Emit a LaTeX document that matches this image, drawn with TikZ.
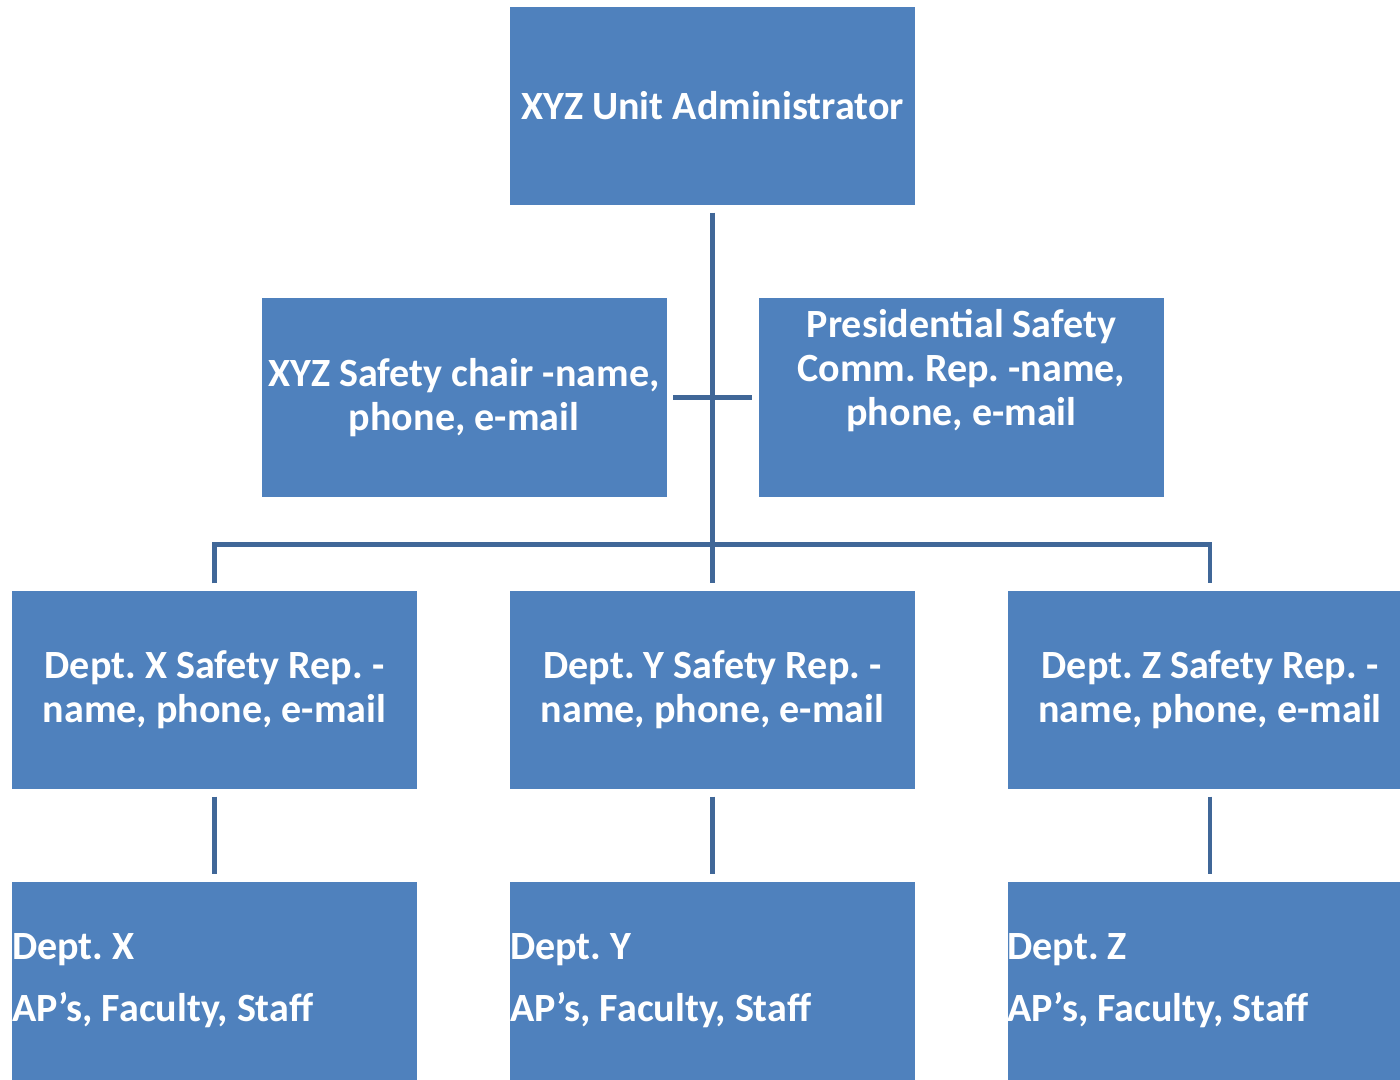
\documentclass[tikz,border=0pt]{standalone}
\usepackage{fontspec}
\setmainfont{Carlito}
\usepackage{xcolor}
\usepackage{tikz}
\definecolor{boxblue}{RGB}{79, 129, 189}
\definecolor{lineblue}{RGB}{64, 103, 152}
\frenchspacing

\tikzset{
  unitbox/.style={fill=boxblue, text=white, minimum width=4.05cm, minimum height=1.98cm,
    inner sep=0pt, align=center, font=\fontsize{11.4}{12.5}\selectfont\bfseries},
  staffbox/.style={unitbox, align=flush left, text width=4.05cm},
  link/.style={draw=lineblue, line width=1.3pt, shorten <=0.07cm, shorten >=0.07cm}
}

\begin{document}
\begin{tikzpicture}
            \useasboundingbox (0,0) rectangle (14,-10.8);
            % top of the chart
            \node[unitbox] (admin) at (7.125,-1.06) {XYZ Unit Administrator};
            \node[unitbox] (chair) at (4.64,-3.975) {XYZ Safety chair -name,\\phone, e-mail};
            \node[unitbox] (pres) at (9.615,-3.975) {Presidential Safety\\Comm. Rep. -name,\\phone, e-mail\\[4.5pt]\mbox{}};
            % department reps
            \node[unitbox] (repx) at (2.145,-6.9) {Dept. X Safety Rep. -\\name, phone, e-mail};
            \node[unitbox] (repy) at (7.125,-6.9) {Dept. Y Safety Rep. -\\name, phone, e-mail};
            \node[unitbox] (repz) at (12.1,-6.9) {Dept. Z Safety Rep. -\\name, phone, e-mail};
            % department staff
            \node[staffbox] (staffx) at (2.145,-9.81) {Dept. X\\[5.2pt]AP’s, Faculty, Staff};
            \node[staffbox] (staffy) at (7.125,-9.81) {Dept. Y\\[5.2pt]AP’s, Faculty, Staff};
            \node[staffbox] (staffz) at (12.1,-9.81) {Dept. Z\\[5.2pt]AP’s, Faculty, Staff};
            % connectors
            \draw[link] (admin) -- (repy);
            \draw[link, shorten <=0.06cm, shorten >=0.06cm] (chair) -- (pres);
            \draw[link] (repx.north) -- ++(0,0.46) -| (repz.north);
            \draw[link] (repx) -- (staffx);
            \draw[link] (repy) -- (staffy);
            \draw[link] (repz) -- (staffz);
        \end{tikzpicture}
\end{document}
